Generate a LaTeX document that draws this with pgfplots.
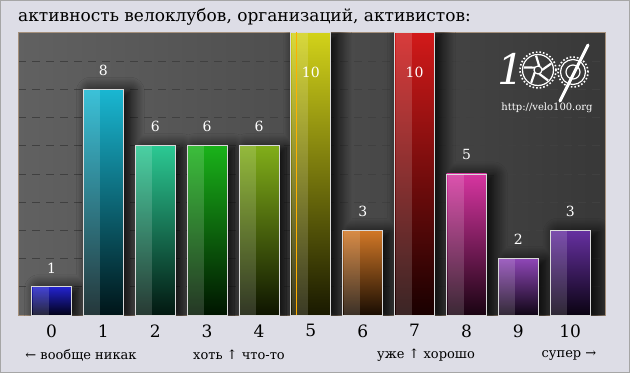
\documentclass[border=0pt]{standalone}
\usepackage{pgfplots}
\pgfplotsset{compat=1.18}
\usepackage{fontspec}
\setmainfont{DejaVu Serif}
\usetikzlibrary{shadows.blur}
\definecolor{bgc}{RGB}{221,221,230}
\definecolor{ca}{RGB}{10,10,200}
\definecolor{cb}{RGB}{0,175,205}
\definecolor{cc}{RGB}{20,195,135}
\definecolor{cd}{RGB}{0,170,0}
\definecolor{ce}{RGB}{115,165,0}
\definecolor{cf}{RGB}{205,205,0}
\definecolor{cg}{RGB}{205,105,15}
\definecolor{ch}{RGB}{205,0,0}
\definecolor{ci}{RGB}{210,30,150}
\definecolor{cj}{RGB}{130,50,175}
\definecolor{ck}{RGB}{85,25,150}
\definecolor{orng}{RGB}{255,175,0}
\newcommand{\mybar}[3]{%
  \addplot[ybar, bar width=40pt, bar shift=0pt, draw=white!70!gray, line width=0.8pt,
    top color=#3!90!white, bottom color=#3!12!black,
    nodes near coords, point meta=y,
    every node near coord/.append style={text=white, font=\fontsize{14}{14}\selectfont, yshift=10pt}]
    coordinates {(#1,#2)};
  \addplot[ybar, bar width=16pt, bar shift=-11pt, draw=none, fill=white, fill opacity=0.15]
    coordinates {(#1,#2)};
}
\newcommand{\mybartop}[3]{%
  \addplot[ybar, bar width=40pt, bar shift=0pt, draw=white!70!gray, line width=0.8pt,
    top color=#3!90!white, bottom color=#3!12!black,
    nodes near coords, point meta=y,
    every node near coord/.append style={text=white, font=\fontsize{14}{14}\selectfont, anchor=center, yshift=-40pt}]
    coordinates {(#1,#2)};
  \addplot[ybar, bar width=16pt, bar shift=-11pt, draw=none, fill=white, fill opacity=0.15]
    coordinates {(#1,#2)};
}
\begin{document}
\begin{tikzpicture}[x=1pt,y=1pt]
\fill[bgc] (0,0) rectangle (630,373);
\draw[gray!70, line width=1pt] (0.5,0.5) rectangle (629.5,372.5);
\node[anchor=base west, inner sep=0pt, font=\fontsize{17}{17}\selectfont] at (18,351) {активность велоклубов, организаций, активистов:};
\begin{axis}[
  at={(18pt,58pt)}, anchor=south west, scale only axis,
  width=587pt, height=283pt,
  xmin=-0.646, xmax=10.67, ymin=0, ymax=10.03,
  /pgf/number format/assume math mode=true,
  axis background/.style={left color=black!62!white, right color=black!78!white},
  axis line style={draw=black!45!brown!60},
  xtick={0,...,10}, ytick={1,...,9}, yticklabels={},
  major tick length=0pt,
  ymajorgrids, major grid style={black!75, dashed, dash pattern=on 8pt off 6pt, line width=0.8pt},
  xticklabel style={font=\fontsize{17}{17}\selectfont, yshift=-6pt},
  clip=true,
]
\addplot[ybar, bar width=40pt, bar shift=0pt, fill=black, draw=none,
  blur shadow={shadow xshift=7pt, shadow yshift=-2pt, shadow blur radius=14pt, shadow opacity=100, shadow blur steps=14}]
  coordinates {(0,1) (1,8) (2,6) (3,6) (4,6) (5,10) (6,3) (7,10) (8,5) (9,2) (10,3)};
\mybar{0}{1}{ca}
\mybar{1}{8}{cb}
\mybar{2}{6}{cc}
\mybar{3}{6}{cd}
\mybar{4}{6}{ce}
\mybartop{5}{10}{cf}
\mybar{6}{3}{cg}
\mybartop{7}{10}{ch}
\mybar{8}{5}{ci}
\mybar{9}{2}{cj}
\mybar{10}{3}{ck}
\addplot[orng, line width=1.6pt] coordinates {(4.72,0) (4.72,10.03)};
\end{axis}
% logo
\node[text=white, font=\fontsize{42}{42}\selectfont\itshape] at (511,304) {1};
\begin{scope}[white, line width=1.2pt]
\draw[dotted, line width=1.6pt] (538,303) circle (18);
\draw (538,303) circle (15.5);
\draw (538,303) circle (4);
\foreach \a in {0,72,...,288} \draw[line width=2.2pt] (538,303) ++(\a:4) -- ++(\a+35:11);
\draw[dotted, line width=1.6pt] (573,301) circle (15);
\draw (573,301) circle (12.5);
\draw (573,301) circle (7);
\draw[line width=3pt, line cap=round] (560,272) -- (588,328);
\end{scope}
\node[text=white, font=\fontsize{10}{10}\selectfont] at (547,265) {http://velo100.org};
% annotations
\begin{scope}[font=\fontsize{13}{13}\selectfont]
\node at (81,18) {← вообще никак};
\node at (239,18) {хоть ↑ что-то};
\node at (426,18) {уже ↑ хорошо};
\node at (569,18) {супер →};
\end{scope}
\end{tikzpicture}
\end{document}
